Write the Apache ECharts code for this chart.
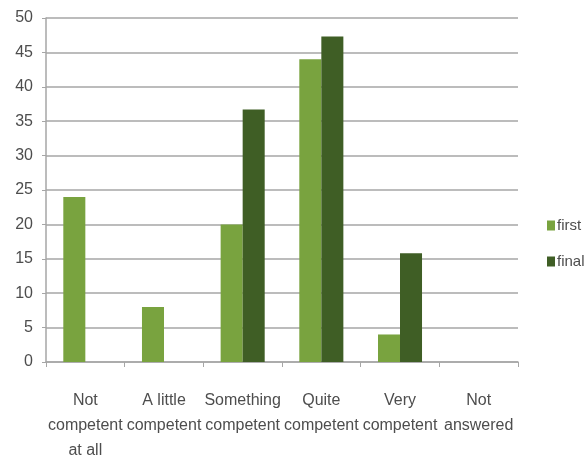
<!DOCTYPE html>
<html>
<head>
<meta charset="utf-8">
<script src="https://cdn.jsdelivr.net/npm/echarts@6/dist/echarts.min.js"></script>
<style>
  html, body { margin: 0; padding: 0; background: #fff; }
  #chart { width: 588px; height: 465px; }
</style>
</head>
<body>
<div id="chart"></div>
<script>
// Competence self-assessment, first vs final survey (percent)
const categories = [
  'Not\ncompetent\nat all',
  'A little\ncompetent',
  'Something\ncompetent',
  'Quite\ncompetent',
  'Very\ncompetent',
  'Not\nanswered'
];
const firstValues = [24, 8, 20, 44, 4, 0];
const finalValues = [0, 0, 36.7, 47.3, 15.8, 0];
const yTicks = { min: 0, max: 50, interval: 5 };

const fontFamily = "'Liberation Sans', sans-serif";
const textColor = '#4d4d4d';
const gridColor = '#a6a6a6';

const chart = echarts.init(document.getElementById('chart'));
chart.setOption({
  animation: false,
  textStyle: { fontFamily: fontFamily },
  grid: { left: 46, right: 70, top: 18, bottom: 103 },
  legend: {
    orient: 'vertical',
    left: 542,
    top: 213,
    itemWidth: 8,
    itemHeight: 10,
    itemGap: 21,
    icon: 'rect',
    textStyle: { color: textColor, fontSize: 15, fontFamily: fontFamily, padding: [0, 0, 0, -3] },
    data: ['first', 'final']
  },
  xAxis: {
    type: 'category',
    data: categories,
    axisLine: { lineStyle: { color: gridColor, width: 1.5 } },
    axisTick: { show: true, length: 5, alignWithLabel: false, lineStyle: { color: gridColor } },
    axisLabel: {
      color: textColor,
      fontSize: 16,
      lineHeight: 25,
      margin: 26,
      interval: 0
    }
  },
  yAxis: {
    type: 'value',
    min: yTicks.min,
    max: yTicks.max,
    interval: yTicks.interval,
    axisLine: { show: true, lineStyle: { color: gridColor, width: 1.5 } },
    axisTick: { show: true, length: 4, lineStyle: { color: gridColor } },
    axisLabel: { color: textColor, fontSize: 16, margin: 13 },
    splitLine: { lineStyle: { color: gridColor, width: 1.5 } }
  },
  series: [
    {
      name: 'first',
      type: 'bar',
      data: firstValues,
      barGap: '0%',
      barCategoryGap: '44%',
      itemStyle: { color: '#79a33f' }
    },
    {
      name: 'final',
      type: 'bar',
      data: finalValues,
      itemStyle: { color: '#3f5e25' }
    }
  ]
});
</script>
</body>
</html>
